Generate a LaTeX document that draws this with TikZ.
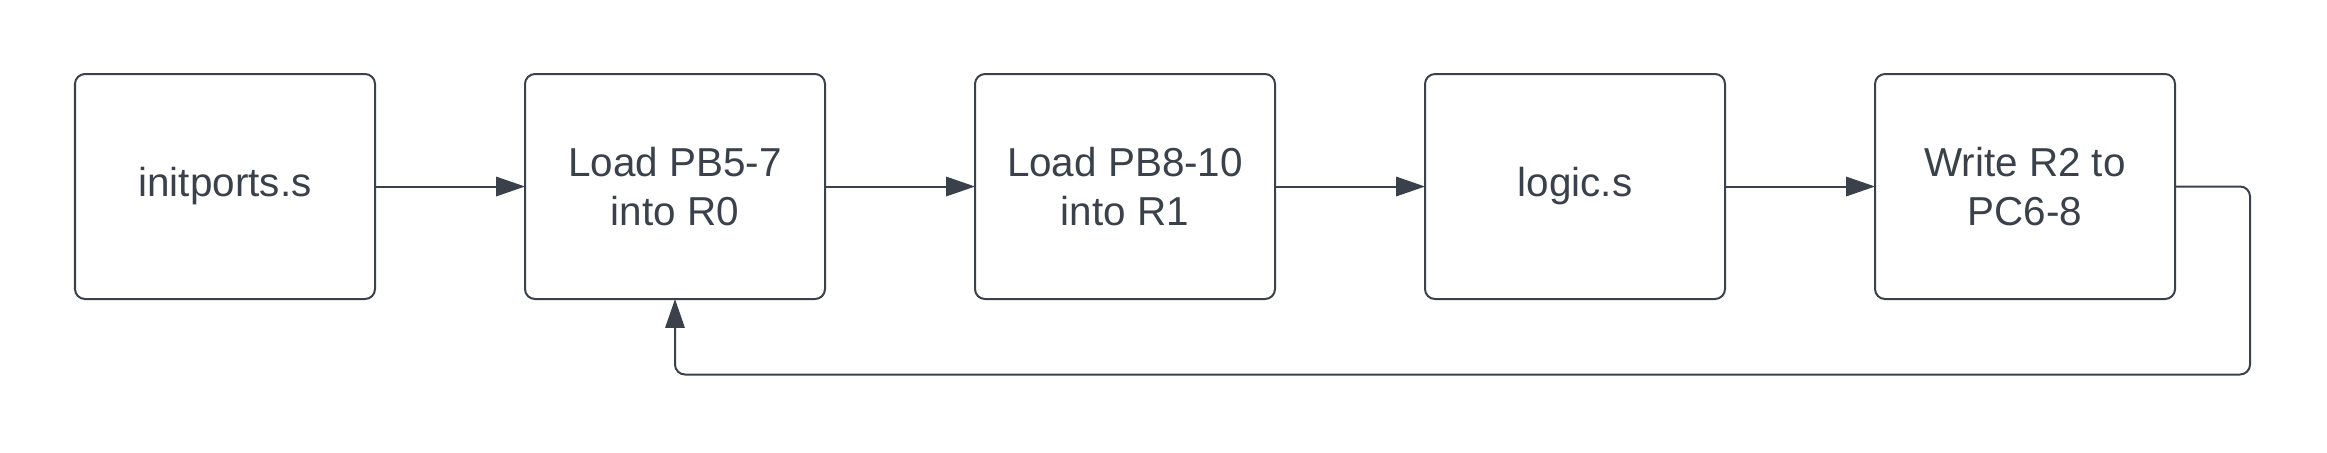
\documentclass[tikz,border=0pt]{standalone}
\usepackage{fontspec}
\setmainfont{Liberation Sans}
\usepackage{tikz}
\usetikzlibrary{positioning,arrows.meta}
\definecolor{ink}{RGB}{58,65,74}
\tikzset{>={Triangle[length=8.2pt,width=5.5pt]}}

\begin{document}
\begin{tikzpicture}[
    stepbox/.style={draw=ink, line width=0.57pt, rounded corners=0.1cm, minimum width=3cm, minimum height=2.25cm, inner sep=0pt, outer sep=0pt, align=center, text=ink, font=\fontsize{11.5}{14.2}\selectfont},
    link/.style={draw=ink, line width=0.57pt, ->, rounded corners=0.1cm}
]
    \useasboundingbox (0,0) rectangle (23.27,-4.52);
    \node[stepbox] (init) at (2.25,-1.865) {initports.s};
    \node[stepbox, right=1.5cm of init] (loadA) {Load PB5-7\\into R0};
    \node[stepbox, right=1.5cm of loadA] (loadB) {Load PB8-10\\into R1};
    \node[stepbox, right=1.5cm of loadB] (logic) {logic.s};
    \node[stepbox, right=1.5cm of logic] (write) {Write R2 to\\PC6-8};
    \coordinate (loopR) at (22.5,-3.745);
    \draw[link] (init) -- (loadA);
    \draw[link] (loadA) -- (loadB);
    \draw[link] (loadB) -- (logic);
    \draw[link] (logic) -- (write);
    \draw[link] (write.east) -| (loopR) -| (loadA.south);
\end{tikzpicture}
\end{document}
